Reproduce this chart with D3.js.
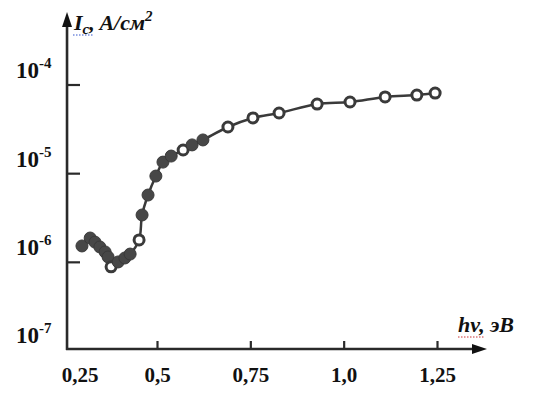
<!DOCTYPE html>
<html>
<head>
<meta charset="utf-8">
<script src="https://cdn.jsdelivr.net/npm/d3@7"></script>
<style>
  body { margin: 0; background: #fff; }
  text { font-family: "Liberation Serif", "Times New Roman", serif; font-weight: bold; fill: #111; }
</style>
</head>
<body>
<div id="chart"></div>
<script>
// photon energy, eV
const energy = [0.299, 0.321, 0.334, 0.347, 0.361, 0.369, 0.377, 0.396, 0.414, 0.428,
  0.452, 0.460, 0.476, 0.497, 0.516, 0.538, 0.570, 0.594, 0.623, 0.690,
  0.757, 0.827, 0.929, 1.017, 1.111, 1.196, 1.245];
// current density, A/cm^2
const current = [1.53e-6, 1.88e-6, 1.69e-6, 1.49e-6, 1.31e-6, 1.15e-6, 8.9e-7, 1.01e-6, 1.12e-6, 1.24e-6,
  1.79e-6, 3.42e-6, 5.74e-6, 9.4e-6, 1.35e-5, 1.58e-5, 1.85e-5, 2.11e-5, 2.40e-5, 3.36e-5,
  4.25e-5, 4.83e-5, 6.1e-5, 6.43e-5, 7.33e-5, 7.7e-5, 8.1e-5];
// 1 = open circle, 0 = filled
const openMarker = [0, 0, 0, 0, 0, 0, 1, 0, 0, 0,
  1, 0, 0, 0, 0, 0, 1, 0, 0, 1,
  1, 1, 1, 1, 1, 1, 1];

const xTicks = [0.25, 0.5, 0.75, 1.0, 1.25];
const xTickLabels = ["0,25", "0,5", "0,75", "1,0", "1,25"];
const yTicks = [1e-7, 1e-6, 1e-5, 1e-4];
const yTickExps = ["-7", "-6", "-5", "-4"];

const width = 553, height = 404;
const svg = d3.select("#chart").append("svg")
  .attr("width", width)
  .attr("height", height);

const x = d3.scaleLinear().domain([0.5, 1.25]).range([157, 437]);
const y = d3.scaleLog().domain([1e-7, 1e-4]).range([351, 85]);

const x0 = x(0.259);      // where the vertical axis stands
const yAxisY = 349;       // horizontal axis line
const axisColor = "#2a2a2a";

// axis lines with arrows
svg.append("line")
  .attr("x1", x0).attr("y1", yAxisY + 1)
  .attr("x2", x0).attr("y2", 24)
  .attr("stroke", axisColor).attr("stroke-width", 2.6);
svg.append("path")
  .attr("d", `M${x0},12 L${x0 - 5},27 L${x0 + 5},27 Z`)
  .attr("fill", "#111");

svg.append("line")
  .attr("x1", x0 - 1).attr("y1", yAxisY)
  .attr("x2", 474).attr("y2", yAxisY)
  .attr("stroke", axisColor).attr("stroke-width", 2.6);
svg.append("path")
  .attr("d", `M487,${yAxisY} L472,${yAxisY - 5} L472,${yAxisY + 5} Z`)
  .attr("fill", "#111");

// x ticks and labels
const xAxis = d3.axisBottom(x)
  .tickValues(xTicks)
  .tickSizeInner(-8)
  .tickSizeOuter(0)
  .tickPadding(18)
  .tickFormat((d, i) => xTickLabels[i]);

const gx = svg.append("g")
  .attr("transform", `translate(0,${yAxisY})`)
  .call(xAxis);
gx.select(".domain").remove();
gx.selectAll(".tick line")
  .attr("stroke", axisColor).attr("stroke-width", 2.2)
  .attr("display", (d) => (d === 0.25 ? "none" : null));
gx.selectAll(".tick text")
  .attr("font-family", null)
  .attr("font-size", 21)
  .attr("fill", "#111")
  .attr("dx", (d) => (d === 0.25 ? 16 : 0));

// y ticks
const gy = svg.append("g");
gy.selectAll("line")
  .data(yTicks.filter((d) => d > 1e-7))
  .join("line")
  .attr("x1", x0).attr("x2", x0 + 13)
  .attr("y1", (d) => y(d)).attr("y2", (d) => y(d))
  .attr("stroke", axisColor).attr("stroke-width", 2.2);

const labels = gy.selectAll("text")
  .data(yTicks)
  .join("text")
  .attr("x", 16)
  .attr("y", (d) => (d === 1e-7 ? yAxisY - 6 : y(d) - 7))
  .attr("font-size", 23);
labels.append("tspan").text("10");
labels.append("tspan")
  .attr("dy", -10)
  .attr("font-size", 15)
  .text((d, i) => yTickExps[i]);

// axis titles
const yTitle = svg.append("text")
  .attr("x", 74).attr("y", 30)
  .attr("font-size", 22)
  .attr("font-style", "italic");
yTitle.append("tspan").text("I");
yTitle.append("tspan").attr("font-size", 15).attr("dy", 4).text("c");
yTitle.append("tspan").attr("dy", -4).text(", A/см");
yTitle.append("tspan").attr("font-size", 15).attr("dy", -9).text("2");

svg.append("line")
  .attr("x1", 73).attr("x2", 93).attr("y1", 35).attr("y2", 35)
  .attr("stroke", "#3355cc").attr("stroke-width", 1)
  .attr("stroke-dasharray", "1.5,1.5");

svg.append("text")
  .attr("x", 458).attr("y", 332)
  .attr("font-size", 22)
  .attr("font-style", "italic")
  .text("hv, эВ");

svg.append("line")
  .attr("x1", 458).attr("x2", 484).attr("y1", 337).attr("y2", 337)
  .attr("stroke", "#cc3333").attr("stroke-width", 1)
  .attr("stroke-dasharray", "1.5,1.5");

// curve
const pts = energy.map((e, i) => [e, current[i]]);
const line = d3.line()
  .x((d) => x(d[0]))
  .y((d) => y(d[1]))
  .curve(d3.curveCatmullRom.alpha(0.5));

svg.append("path")
  .datum(pts)
  .attr("d", line)
  .attr("fill", "none")
  .attr("stroke", "#3a3a3a")
  .attr("stroke-width", 2.5);

// markers
svg.append("g")
  .selectAll("circle")
  .data(pts)
  .join("circle")
  .attr("cx", (d) => x(d[0]))
  .attr("cy", (d) => y(d[1]))
  .attr("r", (d, i) => (openMarker[i] ? 5 : 6))
  .attr("fill", (d, i) => (openMarker[i] ? "#fff" : "#474747"))
  .attr("stroke", "#3a3a3a")
  .attr("stroke-width", (d, i) => (openMarker[i] ? 3 : 1));
</script>
</body>
</html>
